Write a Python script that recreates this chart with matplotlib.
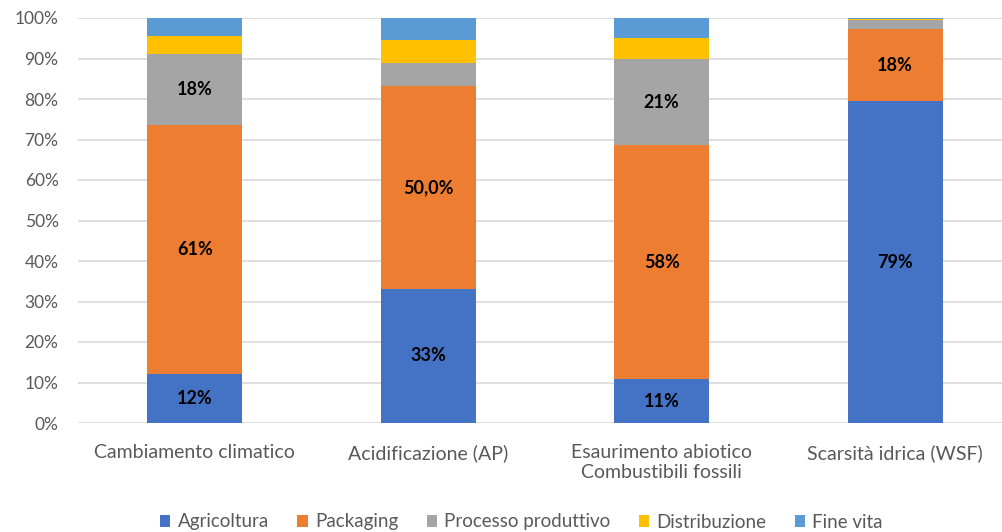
import matplotlib
matplotlib.use("Agg")
from matplotlib import pyplot as plt
from matplotlib.ticker import FuncFormatter
import numpy as np

categories = ["Cambiamento climatico", "Acidificazione (AP)",
              "Esaurimento abiotico\nCombustibili fossili", "Scarsità idrica (WSF)"]
series_names = ["Agricoltura", "Packaging", "Processo produttivo", "Distribuzione", "Fine vita"]
colors = ["#4472C4", "#ED7D31", "#A5A5A5", "#FFC000", "#5B9BD5"]

agricoltura = [12.2, 33.2, 10.8, 79.4]
packaging = [61.4, 50.0, 57.8, 17.9]
processo = [17.5, 5.6, 21.3, 2.3]
distribuzione = [4.5, 5.8, 5.1, 0.15]
fine_vita = [4.4, 5.4, 5.0, 0.25]

# data labels shown on the chart (None = no label)
labels = [
    ["12%", "33%", "11%", "79%"],
    ["61%", "50,0%", "58%", "18%"],
    ["18%", None, "21%", None],
    [None, None, None, None],
    [None, None, None, None],
]


def main():
    plt.rcParams['font.family'] = ['Lato', 'DejaVu Sans']
    fig = plt.figure(figsize=(10.03, 5.32), dpi=100)
    ax = fig.add_axes([78 / 1003, 1 - 423 / 532, 1 - 78 / 1003, (423 - 18) / 532])

    data = [agricoltura, packaging, processo, distribuzione, fine_vita]
    x = np.arange(len(categories))
    bottom = np.zeros(len(categories))
    for vals, name, color, labs in zip(data, series_names, colors, labels):
        vals = np.array(vals)
        ax.bar(x, vals, 0.405, bottom=bottom, color=color, label=name, zorder=2)
        for xi, b, v, lab in zip(x, bottom, vals, labs):
            if lab:
                ax.text(xi, b + v / 2, lab, ha="center", va="center",
                        fontsize=13, fontweight="bold", color="black", zorder=3)
        bottom += vals

    ax.set_ylim(0, 100)
    ax.set_xlim(-0.5, 925 / 233.5 - 0.5)
    ax.set_yticks(range(0, 101, 10))
    ax.yaxis.set_major_formatter(FuncFormatter(lambda v, _: f"{int(v)}%"))
    ax.set_xticks(x)
    ax.set_xticklabels(categories, fontsize=14, linespacing=1.25)
    ax.tick_params(axis="both", length=0, labelcolor="#595959")
    ax.tick_params(axis="y", pad=14, labelsize=12.5)
    ax.tick_params(axis="x", pad=15)
    ax.grid(axis="y", color="#d9d9d9", linewidth=1.2, zorder=0)
    for s in ax.spines.values():
        s.set_visible(False)

    fig.legend(loc="center", bbox_to_anchor=(0.52, 1 - 522 / 532), ncol=5,
               frameon=False, fontsize=13.5, handlelength=0.55, handleheight=0.55,
               handletextpad=0.4, columnspacing=1.5, labelcolor="#595959")

    fig.savefig("out.png", dpi=100)


if __name__ == "__main__":
    main()
